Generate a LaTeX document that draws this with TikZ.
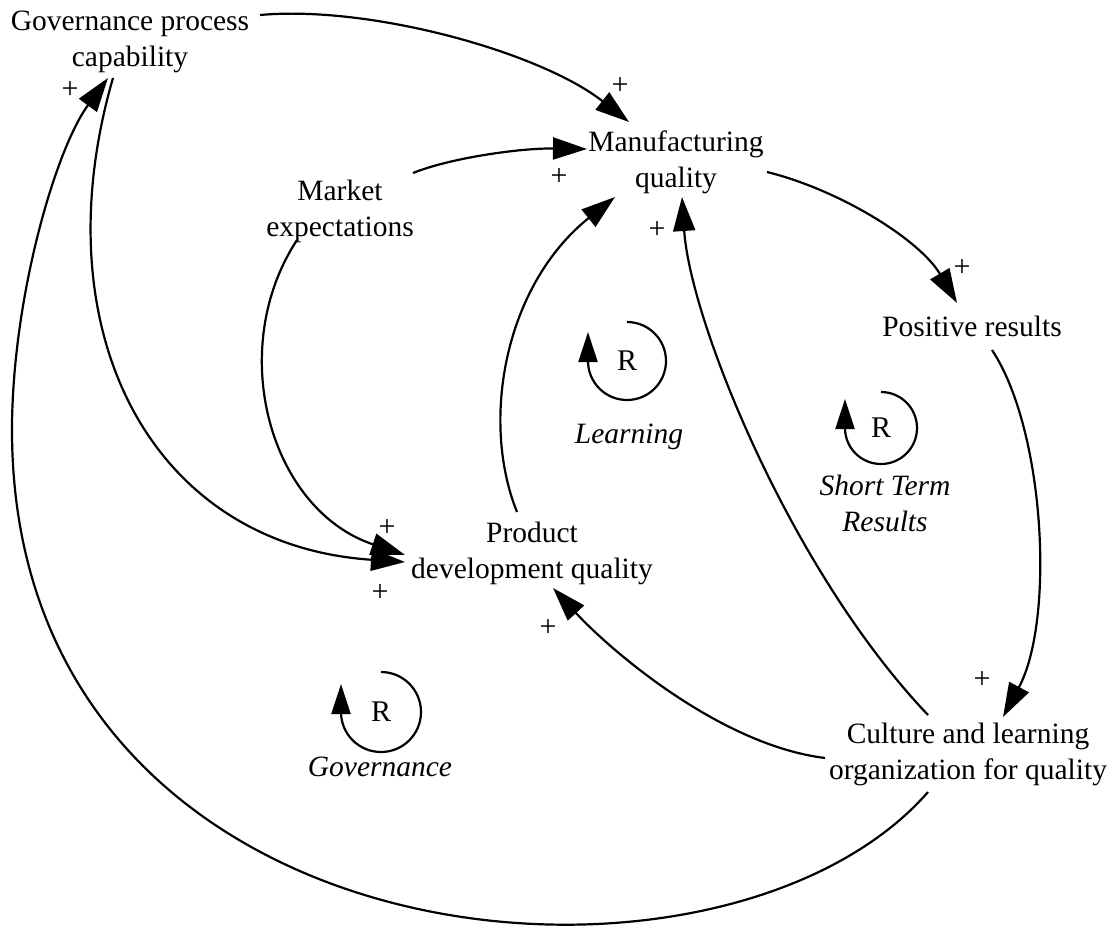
\documentclass[tikz,border=0pt]{standalone}
\usepackage{fontspec}
\setmainfont{Liberation Serif}
\usetikzlibrary{arrows.meta}
\begin{document}
\begin{tikzpicture}[x=1pt,y=-1pt,
  lbl/.style={font=\fontsize{29.5}{36}\selectfont, inner sep=0pt, align=center},
  loopname/.style={inner sep=0pt, align=center, font=\fontsize{29.5}{36}\selectfont\itshape},
  pol/.style={font=\fontsize{30}{36}\selectfont, inner sep=0pt},
  link/.style={line width=2.2pt, -{Triangle[length=34pt,width=22pt]}},
  looparc/.style={line width=2.2pt, -{Triangle[length=30pt,width=19pt]}}
]
\useasboundingbox (0,0) rectangle (1118,945);

% variables
\node[lbl] (gov)    at (130,42)  {Governance process\\capability};
\node[lbl] (manuf)  at (676,162) {Manufacturing\\quality};
\node[lbl] (market) at (340,211) {Market\\expectations};
\node[lbl, anchor=base] (pos) at (972,336) {Positive results};
\node[lbl] (prod)   at (532,553) {Product\\development quality};
\node[lbl] (cult)   at (968,754) {Culture and learning\\organization for quality};

% causal links
\draw[link] ([shift={(130,-27)}]gov.center)
  .. controls (370,5) and (540,52) .. ([shift={(-47,-40)}]manuf.center);
\draw[link] ([shift={(-17,36)}]gov.center)
  .. controls (40,330) and (150,545) .. ([shift={(-127,9)}]prod.center);
\draw[link] ([shift={(-43,29)}]market.center)
  .. controls (225,350) and (270,510) .. ([shift={(-127,2)}]prod.center);
\draw[link] ([shift={(73,-38)}]market.center)
  .. controls (450,158) and (520,148) .. ([shift={(-89,-13)}]manuf.center);
\draw[link] ([shift={(-15,-41)}]prod.center)
  .. controls (480,420) and (505,285) .. ([shift={(-61,35)}]manuf.center);
\draw[link] ([shift={(-40,-39)}]cult.center)
  .. controls (790,570) and (690,320) .. ([shift={(6,35)}]manuf.center);
\draw[link] ([shift={(-143,4)}]cult.center)
  .. controls (720,745) and (610,650) .. ([shift={(21,35)}]prod.center);
\draw[link] ([shift={(91,10)}]manuf.center)
  .. controls (840,190) and (920,240) .. ([shift={(-15,-33)}]pos.base);
\draw[link] ([shift={(20,14)}]pos.base)
  .. controls (1045,430) and (1055,620) .. ([shift={(35,-37)}]cult.center);
\coordinate (farleft) at (12,430);
\draw[link] ([shift={(-40,38)}]cult.center)
  .. controls (720,1030) and (12,970) .. (farleft)
  .. controls (12,300) and (55,150) .. ([shift={(-22,36)}]gov.center);

% polarities
\node[pol] (p1) at (620,86)  {+};
\node[pol] (p2) at (559,177) {+};
\node[pol] (p3) at (70,90)   {+};
\node[pol] (p4) at (657,230) {+};
\node[pol] (p5) at (962,268) {+};
\node[pol] (p6) at (387,528) {+};
\node[pol] (p7) at (380,593) {+};
\node[pol] (p8) at (548,628) {+};
\node[pol] (p9) at (982,680) {+};

% loop markers
\node[pol] (rL) at (627,361) {R};
\draw[looparc] ([shift={(0,-39)}]rL.center) arc[start angle=-90, end angle=180, radius=39] -- ++(0,-29);
\node[loopname, anchor=base] (nL) at (629,443) {Learning};

\node[pol] (rS) at (881,428) {R};
\draw[looparc] ([shift={(0,-36)}]rS.center) arc[start angle=-90, end angle=180, radius=36] -- ++(0,-29);
\node[loopname] (nS) at (885,503) {Short Term\\Results};

\node[pol] (rG) at (381,712) {R};
\draw[looparc] ([shift={(0,-40)}]rG.center) arc[start angle=-90, end angle=180, radius=40] -- ++(0,-28);
\node[loopname, anchor=base] (nG) at (380,776) {Governance};
\end{tikzpicture}
\end{document}
